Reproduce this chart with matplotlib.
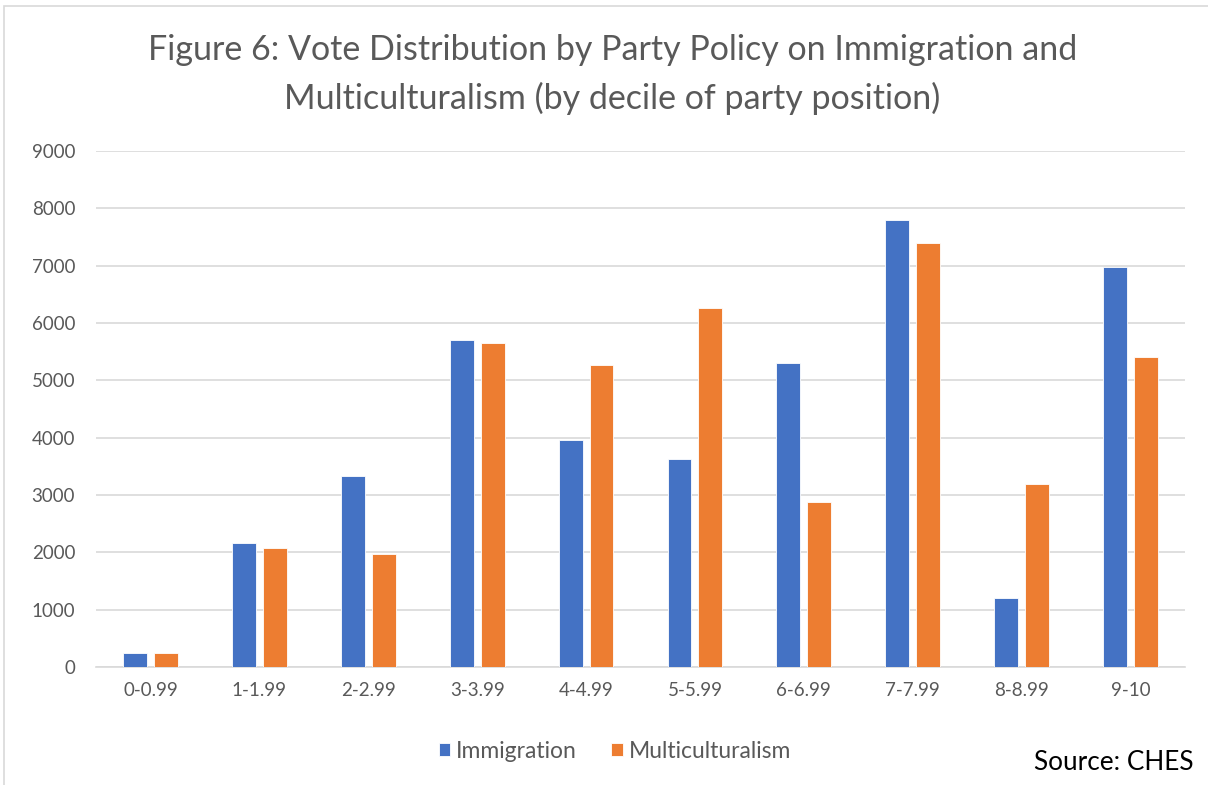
import matplotlib
matplotlib.use("Agg")
from matplotlib import pyplot as plt
from matplotlib.patches import Rectangle
import numpy as np

plt.rcParams['font.family'] = ['Lato', 'DejaVu Sans']

deciles = ['0-0.99', '1-1.99', '2-2.99', '3-3.99', '4-4.99',
           '5-5.99', '6-6.99', '7-7.99', '8-8.99', '9-10']
immigration = [240, 2160, 3325, 5705, 3965, 3635, 5310, 7795, 1205, 6975]
multiculturalism = [240, 2070, 1975, 5650, 5275, 6255, 2880, 7390, 3195, 5400]

blue = '#4472C4'
orange = '#ED7D31'
grey = '#595959'

fig = plt.figure(figsize=(12.08, 7.85), dpi=100)
ax = fig.add_axes([96 / 1208, 1 - 667 / 785, 1089 / 1208, 516 / 785])

# light outline of the chart area
fig.patches.append(Rectangle((4 / 1208, -0.1), 1.2, (785 - 6) / 785 + 0.1,
                             transform=fig.transFigure, fill=False,
                             edgecolor='#D9D9D9', linewidth=1.2))

x = np.arange(len(deciles))
w = 0.22
off = 0.142
ax.bar(x - off, immigration, w, color=blue, edgecolor='white', linewidth=0.6,
       label='Immigration', zorder=3)
ax.bar(x + off, multiculturalism, w, color=orange, edgecolor='white', linewidth=0.6,
       label='Multiculturalism', zorder=3)

ax.set_xlim(-0.5, 9.5)
ax.set_ylim(0, 9000)
ax.set_yticks(range(0, 9001, 1000))
ax.set_xticks(x)
ax.set_xticklabels(deciles)
ax.yaxis.grid(True, color='#D9D9D9', linewidth=1.2, zorder=0)
ax.set_axisbelow(True)
for s in ['top', 'right', 'left']:
    ax.spines[s].set_visible(False)
ax.spines['bottom'].set_color('#D9D9D9')
ax.spines['bottom'].set_linewidth(1.2)
ax.tick_params(axis='both', length=0, labelsize=13.5, colors=grey)
ax.tick_params(axis='y', pad=15)
ax.tick_params(axis='x', pad=11)

# two-line title
fig.text(0.507, 1 - 50 / 785, 'Figure 6: Vote Distribution by Party Policy on Immigration and',
         ha='center', va='center', fontsize=24.5, color=grey)
fig.text(0.507, 1 - 98 / 785, 'Multiculturalism (by decile of party position)',
         ha='center', va='center', fontsize=24.5, color=grey)

ax.legend(loc='center', bbox_to_anchor=(615 / 1208, 1 - 751 / 785),
          bbox_transform=fig.transFigure, ncol=2, frameon=False,
          fontsize=16.5, handlelength=0.5, handleheight=0.5, handletextpad=0.25,
          columnspacing=1.5, labelcolor=grey)

fig.text(1193 / 1208, 1 - 762 / 785, 'Source: CHES', ha='right', va='center',
         fontsize=18.8, color='black')

plt.savefig('out.png', dpi=100)
